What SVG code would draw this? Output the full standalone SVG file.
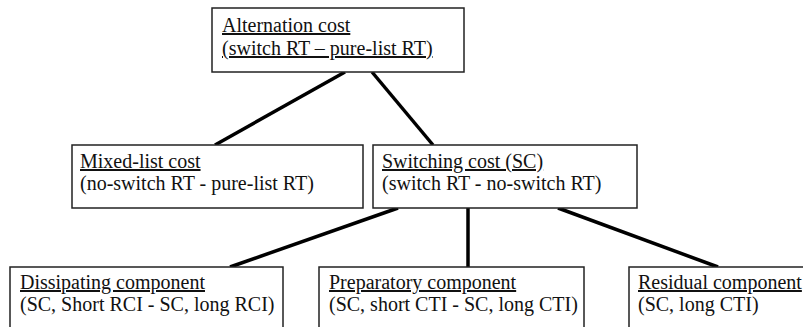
<svg xmlns="http://www.w3.org/2000/svg" width="803" height="327" viewBox="0 0 803 327">
<style>
.box{fill:#fff;stroke:#222;stroke-width:1.5}
.t{font-family:"Liberation Serif","Times New Roman",serif;font-size:20px;fill:#111}
.u{text-decoration:underline}
.c{stroke:#000;stroke-width:3.5;fill:none;stroke-linecap:butt}
</style>
<rect width="803" height="327" fill="#fff"/>
<g id="connectors">
<line class="c" x1="345" y1="72" x2="215" y2="145"/>
<line class="c" x1="372" y1="72" x2="433" y2="145"/>
<line class="c" x1="398" y1="208" x2="230" y2="267"/>
<line class="c" x1="468" y1="208" x2="468" y2="267"/>
<line class="c" x1="558" y1="208" x2="718" y2="267"/>
</g>
<g id="alternation">
<rect class="box" x="212" y="8" width="252" height="64"/>
<text class="t u" x="222" y="32">Alternation cost</text>
<text class="t u" x="222" y="55">(switch RT – pure-list RT)</text>
</g>
<g id="mixed">
<rect class="box" x="72" y="145" width="291" height="63"/>
<text class="t u" x="80" y="168">Mixed-list cost</text>
<text class="t" x="80" y="190">(no-switch RT - pure-list RT)</text>
</g>
<g id="switching">
<rect class="box" x="373" y="145" width="264" height="63"/>
<text class="t u" x="382" y="168">Switching cost (SC)</text>
<text class="t" x="382" y="190">(switch RT - no-switch RT)</text>
</g>
<g id="dissipating">
<rect class="box" x="10" y="267" width="273" height="70"/>
<text class="t u" x="20" y="289">Dissipating component</text>
<text class="t" x="20" y="311">(SC, Short RCI - SC, long RCI)</text>
</g>
<g id="preparatory">
<rect class="box" x="319" y="267" width="265" height="70"/>
<text class="t u" x="329" y="289">Preparatory component</text>
<text class="t" x="329" y="311">(SC, short CTI - SC, long CTI)</text>
</g>
<g id="residual">
<rect class="box" x="629" y="267" width="190" height="70"/>
<text class="t u" x="638" y="289">Residual component</text>
<text class="t" x="638" y="311">(SC, long CTI)</text>
</g>
</svg>
